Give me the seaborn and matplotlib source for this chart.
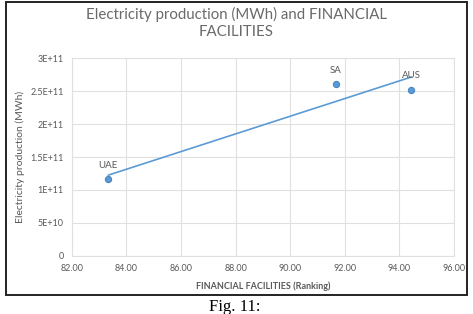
import matplotlib
matplotlib.use("Agg")
import matplotlib.pyplot as plt
import matplotlib.patches as patches
import seaborn as sns
import pandas as pd
import numpy as np

# data
countries = ["UAE", "SA", "AUS"]
financial = [83.33, 91.66, 94.44]
electricity = [1.16e11, 2.60e11, 2.52e11]

x_ticks = [82, 84, 86, 88, 90, 92, 94, 96]
y_ticks = [0, 5e10, 1e11, 1.5e11, 2e11, 2.5e11, 3e11]
y_tick_labels = ["0", "5E+10", "1E+11", "1.5E+11", "2E+11", "2.5E+11", "3E+11"]

df = pd.DataFrame({"country": countries, "fin": financial, "elec": electricity})

sns.set_style("whitegrid")
plt.rcParams["font.family"] = ["Lato", "DejaVu Sans"]

grey = "#595959"
blue = "#5B9BD5"

fig = plt.figure(figsize=(4.73, 3.14), dpi=100)
ax = fig.add_axes([0.152, 0.185, 0.808, 0.630])

# trend line (linear fit) + points
sns.regplot(data=df, x="fin", y="elec", scatter=False, ci=None, truncate=True,
            color=blue, line_kws={"linewidth": 1.2}, ax=ax)
sns.scatterplot(data=df, x="fin", y="elec", color=blue, edgecolor="#4A86C0",
                linewidth=0.8, s=20, ax=ax, zorder=3)

for _, r in df.iterrows():
    ax.annotate(r["country"], (r["fin"], r["elec"]), xytext=(0, 10),
                textcoords="offset points", ha="center", va="center",
                fontsize=7, color=grey)

ax.set_xlim(82, 96)
ax.set_ylim(0, 3e11)
ax.set_xticks(x_ticks)
ax.set_xticklabels([f"{v:.2f}" for v in x_ticks])
ax.set_yticks(y_ticks)
ax.set_yticklabels(y_tick_labels)
ax.tick_params(axis="both", labelsize=6.5, colors=grey, length=0, pad=6)
ax.grid(True, color="#e0e0e0", linewidth=0.8)
for s in ax.spines.values():
    s.set_color("#e0e0e0")
    s.set_linewidth(0.8)

ax.set_xlabel("FINANCIAL FACILITIES (Ranking)", fontsize=6.5, color=grey,
              fontweight="bold", labelpad=6)
ax.set_ylabel("Electricity production (MWh)", fontsize=7.5, color=grey,
              labelpad=4)

fig.text(0.5, 1 - 23 / 314, "Electricity production (MWh) and FINANCIAL\nFACILITIES",
         ha="center", va="center", fontsize=10.8, color="#6a6a6a", linespacing=1.25)

# outer frame around the chart
fig.patches.append(patches.Rectangle((6 / 473, 1 - 295 / 314), 461 / 473, 293 / 314,
                                     transform=fig.transFigure, fill=False,
                                     edgecolor="#222222", linewidth=1.4))

fig.text(235 / 473, 1 - 299 / 314, "Fig. 11:", ha="center", va="top",
         fontsize=12, family="Liberation Serif", color="black")

fig.savefig("out.png", dpi=100)
